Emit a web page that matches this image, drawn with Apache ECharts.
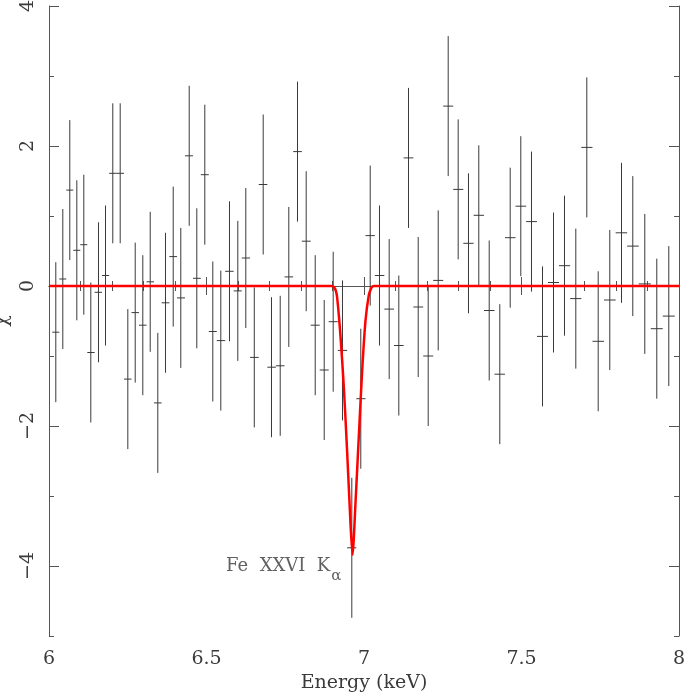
<!DOCTYPE html>
<html>
<head>
<meta charset="utf-8">
<script src="https://cdn.jsdelivr.net/npm/echarts@6/dist/echarts.min.js"></script>
<style>
html,body{margin:0;padding:0;background:#fff;}
#chart{width:684px;height:692px;}
</style>
</head>
<body>
<div id="chart"></div>
<script>
// Bin centres (keV)
var energy = [6.0216,6.0438,6.0660,6.0883,6.1105,6.1327,6.1571,6.1794,6.2025,6.2260,
  6.2502,6.2737,6.2978,6.3213,6.3454,6.3698,6.3943,6.4184,6.4451,6.4692,
  6.4946,6.5200,6.5454,6.5730,6.5994,6.6248,6.6517,6.6800,6.7063,6.7340,
  6.7613,6.7889,6.8165,6.8451,6.8737,6.9022,6.9317,6.9613,6.9898,7.0197,
  7.0492,7.0800,7.1105,7.1413,7.1721,7.2038,7.2356,7.2673,7.2990,7.3317,
  7.3644,7.3975,7.4311,7.4641,7.4978,7.5317,7.5667,7.6016,7.6365,7.6724,
  7.7073,7.7435,7.7803,7.8175,7.8533,7.8914,7.9295,7.9676];
// Residuals (chi)
var chi = [-0.66,0.10,1.37,0.51,0.59,-0.95,-0.09,0.15,1.61,1.61,
  -1.33,-0.38,-0.56,0.06,-1.67,-0.24,0.42,-0.17,1.86,0.11,
  1.59,-0.65,-0.78,0.21,-0.07,0.40,-1.02,1.45,-1.16,-1.14,
  0.13,1.92,0.64,-0.56,-1.20,-0.51,-0.92,-3.74,-1.61,0.72,
  0.15,-0.33,-0.85,1.83,-0.30,-1.00,0.08,2.57,1.38,0.61,
  1.01,-0.35,-1.26,0.69,1.14,0.92,-0.72,0.05,0.29,-0.18,
  1.98,-0.79,-0.20,0.76,0.57,0.03,-0.61,-0.43];
var chiErr = 1; // residual error bars are +-1 sigma
// Gaussian absorption model (keV, chi)
var modelE = [6.0,6.899,6.905,6.910,6.9149,6.9254,6.9359,6.9467,6.9571,6.9635,6.9730,6.9835,6.9943,7.0048,7.0152,7.0210,7.0260,7.032,8.0];
var modelY = [0,0,-0.02,-0.06,-0.17,-0.72,-1.44,-2.39,-3.39,-3.84,-3.10,-2.15,-1.20,-0.49,-0.13,-0.05,-0.01,0,0];
// Axis ticks
var xTicks = [6,6.5,7,7.5,8];
var yMajorTicks = [-4,-2,0,2,4];
var yMinorTicks = [-5,-3,-1,1,3];
var lineLabel = {E: 6.941, chi: -4.0, name: 'Fe  XXVI  K', sub: 'α'};

var FONT = 'DejaVu Serif';
var TXT = '#3a3a3a';
var AX = '#555';

var bars = energy.map(function(e, i){
  var lo = i > 0 ? (energy[i-1] + e)/2 : e - (energy[1]-energy[0])/2;
  var hi = i < energy.length-1 ? (energy[i+1] + e)/2 : e + (energy[i]-energy[i-1])/2;
  return [e, chi[i], lo, hi];
});
var model = modelE.map(function(e,i){ return [e, modelY[i]]; });

var chart = echarts.init(document.getElementById('chart'), null, {renderer:'canvas'});
var tickStyle = {color: AX, width: 1};
var option = {
  animation: false,
  backgroundColor: '#fff',
  grid: {left: 49, right: 5, top: 6, bottom: 56, containLabel: false, outerBoundsMode: 'none'},
  xAxis: [{
    type: 'value', min: 6, max: 8, interval: 0.5, position: 'bottom',
    name: 'Energy (keV)', nameLocation: 'middle', nameGap: 35,
    nameTextStyle: {fontFamily: FONT, fontSize: 19, color: TXT},
    axisLine: {show: true, lineStyle: {color: AX, width: 1}},
    axisTick: {show: true, inside: true, length: 9, lineStyle: tickStyle},
    minorTick: {show: true, splitNumber: 5, length: 5, lineStyle: tickStyle},
    axisLabel: {show: true, margin: 14, fontFamily: FONT, fontSize: 19, color: TXT,
      customValues: xTicks, formatter: function(v){ return String(v); }},
    splitLine: {show: false}, minorSplitLine: {show: false}
  },{
    type: 'value', min: 6, max: 8, interval: 0.5, position: 'top',
    axisLine: {show: true, lineStyle: {color: AX, width: 1}},
    axisTick: {show: true, inside: true, length: 9, lineStyle: tickStyle},
    minorTick: {show: true, splitNumber: 5, length: 5, lineStyle: tickStyle},
    axisLabel: {show: false}, splitLine: {show: false}
  }],
  yAxis: [{
    type: 'value', min: -5, max: 4, position: 'left',
    name: 'χ', nameLocation: 'middle', nameGap: 37, nameRotate: 90,
    nameTextStyle: {fontFamily: FONT, fontSize: 19, color: TXT},
    axisLine: {show: true, lineStyle: {color: AX, width: 1}},
    axisTick: {show: true, inside: true, length: 10, lineStyle: tickStyle, customValues: yMajorTicks},
    axisLabel: {show: true, rotate: 90, margin: 11, fontFamily: FONT, fontSize: 19, color: TXT,
      customValues: yMajorTicks, formatter: function(v){ return String(v).replace('-', '\u2212'); }},
    splitLine: {show: false}
  },{
    type: 'value', min: -5, max: 4, position: 'left',
    axisLine: {show: false},
    axisTick: {show: true, inside: true, length: 5, lineStyle: tickStyle, customValues: yMinorTicks},
    axisLabel: {show: false}, splitLine: {show: false}
  },{
    type: 'value', min: -5, max: 4, position: 'right',
    axisLine: {show: true, lineStyle: {color: AX, width: 1}},
    axisTick: {show: true, inside: true, length: 10, lineStyle: tickStyle, customValues: yMajorTicks},
    axisLabel: {show: false}, splitLine: {show: false}
  },{
    type: 'value', min: -5, max: 4, position: 'right',
    axisLine: {show: false},
    axisTick: {show: true, inside: true, length: 5, lineStyle: tickStyle, customValues: yMinorTicks},
    axisLabel: {show: false}, splitLine: {show: false}
  }],
  series: [{
    type: 'custom',
    xAxisIndex: 0, yAxisIndex: 0,
    data: bars,
    clip: true,
    renderItem: function(params, api){
      var x = api.value(0), y = api.value(1), lo = api.value(2), hi = api.value(3);
      var pT = api.coord([x, y + chiErr]);
      var pB = api.coord([x, y - chiErr]);
      var pL = api.coord([lo, y]);
      var pR = api.coord([hi, y]);
      var st = {stroke: '#3a3a3a', lineWidth: 1};
      return {type: 'group', children: [
        {type: 'line', shape: {x1: pT[0], y1: pT[1], x2: pB[0], y2: pB[1]}, style: st},
        {type: 'line', shape: {x1: pL[0], y1: pL[1], x2: pR[0], y2: pR[1]}, style: st}
      ]};
    },
    z: 2
  },{
    type: 'line',
    xAxisIndex: 0, yAxisIndex: 0,
    data: model,
    showSymbol: false, symbol: 'none',
    smooth: 0.25,
    lineStyle: {color: '#ff0000', width: 2.5},
    z: 3
  },{
    type: 'scatter',
    xAxisIndex: 0, yAxisIndex: 0,
    data: [[lineLabel.E, lineLabel.chi]],
    symbolSize: 0,
    silent: true,
    label: {
      show: true, position: 'left', distance: 4,
      formatter: '{a|' + lineLabel.name + '}{s|' + lineLabel.sub + '}',
      rich: {
        a: {fontFamily: FONT, fontSize: 18, color: TXT},
        s: {fontFamily: FONT, fontSize: 15, color: TXT, padding: [20, 0, 0, 1]}
      }
    },
    z: 4
  }]
};
chart.setOption(option);
</script>
</body>
</html>
